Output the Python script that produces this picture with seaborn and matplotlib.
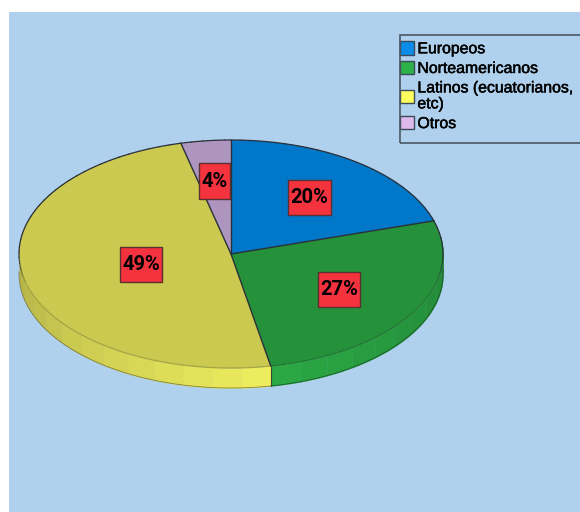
import numpy as np
import matplotlib
matplotlib.use("Agg")
import matplotlib.pyplot as plt
import matplotlib.patheffects as pe
import seaborn as sns
from matplotlib.patches import Patch, Rectangle
from matplotlib.path import Path

categories = ["Europeos", "Norteamericanos", "Latinos (ecuatorianos,\netc)", "Otros"]
values = [20.3, 26.7, 49.2, 3.8]
pct_labels = ["20%", "27%", "49%", "4%"]
label_radius = [1.0, 0.96, 0.70, 1.04]
top_colors = ["#0077C8", "#25913A", "#CBC950", "#AE95C0"]
side_colors = ["#0077C8", "#2BA845", "#F0EF5F", "#C9ABDD"]
legend_colors = ["#0A8CEB", "#2DB24A", "#FFFF5E", "#DDB9EE"]

sns.set_theme(style="white")
plt.rcParams["font.family"] = ["Liberation Sans", "DejaVu Sans"]

W, H = 580, 512
CX, CY, RX, RY, DEPTH = 231, 254, 212, 114, 20

fig = plt.figure(figsize=(W / 100, H / 100), dpi=100, facecolor="white")

bg = fig.add_axes([9 / W, 0, (W - 9) / W, (H - 12) / H], facecolor="#AFD1EE")
bg.set_xticks([]); bg.set_yticks([])
for s in bg.spines.values():
    s.set_visible(False)

ax = fig.add_axes([0, 0, 1, 1], facecolor="none")

fractions = np.array(values) / sum(values)
edges = np.concatenate([[0], np.cumsum(fractions)]) * 2 * np.pi
dz = DEPTH / RY

# extruded rim, banded and shaded by direction
for i, col in enumerate(side_colors):
    base = np.array(matplotlib.colors.to_rgb(col))
    th = np.arange(edges[i], edges[i + 1], np.radians(8))
    th = np.append(th, edges[i + 1])
    for a, b in zip(th[:-1], th[1:]):
        if np.cos(a) > 0.02 and np.cos(b) > 0.02:
            continue
        tt = np.linspace(a, b, 8)
        m = (a + b) / 2
        shade = 0.74 + 0.26 * np.clip(1 - abs(m - np.radians(168)) / np.radians(100), 0, 1)
        ax.fill_between(np.sin(tt), np.cos(tt) - dz, np.cos(tt), color=base * shade, lw=0.3, zorder=1)
    tt = np.linspace(edges[i], edges[i + 1], 100)
    tt = tt[np.cos(tt) <= 0.05]
    if len(tt):
        ax.plot(np.sin(tt), np.cos(tt) - dz, color=base * 0.45, lw=0.6, alpha=0.8, zorder=2)
ax.plot([np.sin(edges[2])] * 2, [np.cos(edges[2]), np.cos(edges[2]) - dz], color="#3A4A30", lw=0.8, zorder=2)


def label_box(x0, y0, width, height, mutation_size):
    padx, pady = 0.12 * mutation_size, 0.40 * mutation_size
    xa, xb = x0 - padx, x0 + width + padx
    ya, yb = y0 - pady, y0 + height + pady
    return Path([(xa, ya), (xb, ya), (xb, yb), (xa, yb), (xa, ya)], closed=True)


wedges, _, autotexts = ax.pie(
    values,
    colors=top_colors,
    startangle=90,
    counterclock=False,
    radius=1,
    autopct=lambda p: f"{p:.0f}%",
    pctdistance=0.62,
    wedgeprops=dict(linewidth=0),
    textprops=dict(fontsize=14.5, fontweight="bold", color="black", family="Roboto"),
)
for w in wedges:
    w.set_zorder(3)
for t, lab, k in zip(autotexts, pct_labels, label_radius):
    t.set_text(lab)
    t.set_bbox(dict(boxstyle=label_box, facecolor="#F5333F", edgecolor="#5A3030", linewidth=1))
    t.set_zorder(6)
    x, y = t.get_position()
    t.set_position((x * k, y * k))

# outline: dark round the back, fading along the front of the disc
dark = np.array(matplotlib.colors.to_rgb("#2A3038"))
for i, col in enumerate(top_colors):
    base = np.array(matplotlib.colors.to_rgb(col))
    th = np.append(np.arange(edges[i], edges[i + 1], np.radians(3)), edges[i + 1])
    for a, b in zip(th[:-1], th[1:]):
        w_ = np.clip((np.cos((a + b) / 2) + 0.25) / 0.25, 0, 1)
        c = dark * w_ + base * 0.82 * (1 - w_)
        tt = np.linspace(a, b, 4)
        ax.plot(np.sin(tt), np.cos(tt), color=c, lw=0.9, zorder=4, solid_capstyle="round")
    ax.plot([0, np.sin(edges[i])], [0, np.cos(edges[i])], color=dark, lw=1.0, zorder=4)

ax.set_aspect("auto")
ax.set_xlim(-CX / RX, (W - CX) / RX)
ax.set_ylim(-(H - CY) / RY, CY / RY)
ax.set_axis_off()

handles = [Patch(facecolor=c, edgecolor="#3C4A55", linewidth=1) for c in legend_colors]
leg = ax.legend(
    handles, categories,
    loc="upper left",
    bbox_to_anchor=(400 / W, 1 - 41 / H),
    bbox_transform=fig.transFigure,
    fontsize=11.4,
    frameon=False,
    borderaxespad=0,
    borderpad=0,
    handlelength=0.9,
    handleheight=0.95,
    handletextpad=0.2,
    labelspacing=0.28,
    labelcolor="black",
)
leg.set_zorder(7)
for t in leg.get_texts():
    t.set_linespacing(1.08)
    t.set_path_effects([pe.withStroke(linewidth=0.35, foreground="black")])

fig.add_artist(Rectangle((400 / W, 1 - 143 / H), 200 / W, 108 / H, transform=fig.transFigure,
                         facecolor="none", edgecolor="#4A5865", linewidth=1.2))

fig.savefig("out.png", dpi=100, facecolor="white")
